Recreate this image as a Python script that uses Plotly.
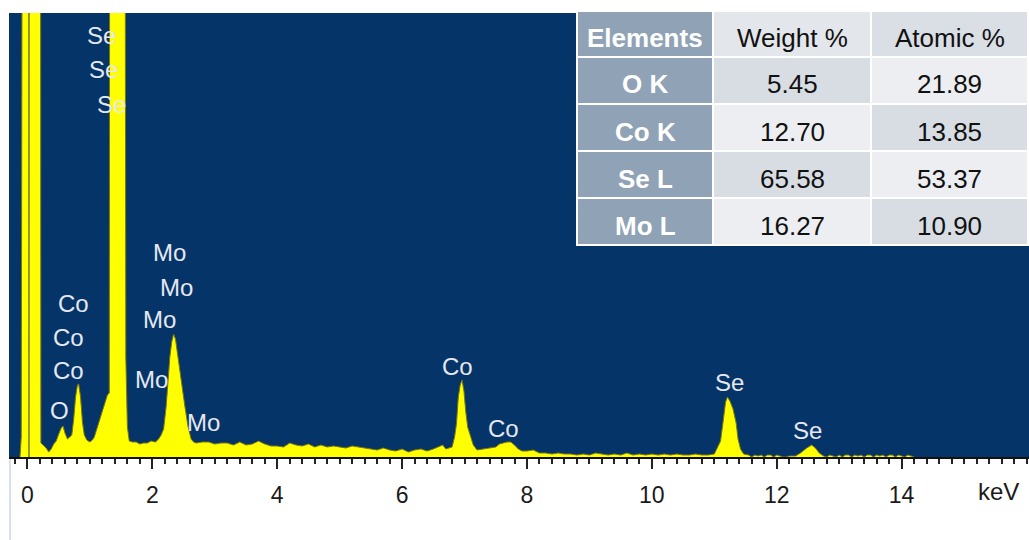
import plotly.graph_objects as go

# ---- EDS spectrum (energy in keV, counts in arbitrary units) ----
energy_kev = [
    -0.12, -0.10, -0.06, 0.020, 0.024, 0.028, 0.20, 0.215, 0.25, 0.30, 0.34,
    0.38, 0.42, 0.46, 0.50, 0.54, 0.57, 0.60, 0.64, 0.68, 0.71,
    0.74, 0.77, 0.80, 0.82, 0.85, 0.88, 0.91, 0.95, 1.00, 1.04,
    1.07, 1.11, 1.16, 1.21, 1.25, 1.28, 1.31, 1.325, 1.45, 1.55,
    1.575, 1.60, 1.63, 1.68, 1.74, 1.80, 1.86, 1.92, 1.98, 2.05,
    2.10, 2.14, 2.18, 2.22, 2.25, 2.28, 2.31, 2.34, 2.37, 2.40,
    2.44, 2.47, 2.52, 2.57, 2.62, 2.66, 2.70, 2.80, 2.90, 3.00,
    3.10, 3.20, 3.30, 3.40, 3.50, 3.60, 3.70, 3.80, 3.90, 4.00,
    4.10, 4.20, 4.30, 4.40, 4.50, 4.60, 4.70, 4.80, 4.90, 5.00,
    5.10, 5.20, 5.30, 5.40, 5.50, 5.60, 5.70, 5.80, 5.90, 6.00,
    6.10, 6.20, 6.30, 6.40, 6.50, 6.60, 6.65, 6.70, 6.75, 6.80,
    6.84, 6.87, 6.90, 6.93, 6.96, 6.99, 7.02, 7.05, 7.09, 7.14,
    7.20, 7.30, 7.40, 7.50, 7.56, 7.62, 7.68, 7.74, 7.80, 7.86,
    7.92, 8.00, 8.10, 8.20, 8.30, 8.40, 8.50, 8.60, 8.70, 8.80,
    8.90, 9.00, 9.10, 9.20, 9.30, 9.40, 9.50, 9.60, 9.70, 9.80,
    9.90, 10.00, 10.10, 10.20, 10.30, 10.40, 10.50, 10.60, 10.70, 10.80,
    10.90, 11.00, 11.05, 11.10, 11.14, 11.18, 11.21, 11.25, 11.30, 11.35,
    11.38, 11.42, 11.47, 11.55, 11.60, 11.65, 11.70, 11.75, 11.80, 11.85,
    11.90, 11.95, 12.00, 12.05, 12.10, 12.15, 12.20, 12.25, 12.30, 12.38,
    12.48, 12.56, 12.62, 12.68, 12.75, 12.80, 12.85, 12.90, 12.95, 13.00,
    13.05, 13.10, 13.15, 13.20, 13.25, 13.30, 13.35, 13.40, 13.45, 13.50,
    13.55, 13.60, 13.65, 13.70, 13.75, 13.80, 13.85, 13.90, 13.95, 14.00,
    14.05, 14.10, 14.15, 14.20,
]
counts = [
    0, 20, 1500, 1500, 0, 1500, 1500, 14, 12, 9, 5,
    8, 13, 16, 23, 29, 31, 24, 18, 20, 22,
    38, 60, 72, 73, 60, 35, 22, 17, 15, 17,
    20, 28, 37, 48, 57, 62, 64, 1300, 1500, 1200,
    100, 30, 16, 15, 15, 13, 14, 14, 16, 15,
    18, 22, 28, 50, 75, 100, 115, 123, 118, 104,
    86, 70, 51, 31, 18, 15, 14, 15, 15, 13,
    14, 14, 12, 15, 12, 13, 16, 13, 11, 11,
    10, 14, 12, 11, 13, 10, 12, 10, 11, 10,
    9, 11, 10, 9, 8, 7, 9, 7, 6, 8,
    5, 7, 8, 6, 8, 11, 12, 8, 9, 10,
    20, 33, 60, 72, 77, 66, 45, 30, 22, 12,
    7, 8, 9, 10, 13, 14, 15, 15, 12, 8,
    6, 6, 7, 4, 4, 3, 4, 3, 3, 2,
    3, 2, 4, 3, 2, 3, 2, 4, 2, 3,
    2, 3, 2, 3, 2, 3, 2, 2, 3, 2,
    2, 3, 9, 16, 35, 55, 60, 56, 48, 34,
    18, 8, 3, 2, 0, 2, 1, 2, 0, 2,
    2, 0, 2, 1, 0, 0, 1, 1, 1, 4,
    9, 12, 9, 4, 1, 0, 2, 1, 0, 2,
    0, 2, 2, 0, 2, 1, 2, 0, 2, 2,
    0, 2, 1, 2, 0, 2, 2, 0, 2, 1,
    0, 2, 1, 0,
]

# ---- element line labels ----
label_text = ["Se", "Se", "Se", "Mo", "Mo", "Mo", "Mo", "Mo",
              "Co", "Co", "Co", "O", "Co", "Co", "Se", "Se"]
label_kev = [1.19, 1.21, 1.35, 2.28, 2.39, 2.12, 1.99, 2.82,
             0.73, 0.65, 0.65, 0.52, 6.89, 7.62, 11.24, 12.49]
label_level = [422, 388, 353, 205, 170, 138, 78, 35,
               154, 120, 87, 47, 91, 29, 75, 27]

# ---- quantification table ----
table_header = ["Elements", "Weight %", "Atomic %"]
elements = ["O K", "Co K", "Se L", "Mo L"]
weight_pct = ["5.45", "12.70", "65.58", "16.27"]
atomic_pct = ["21.89", "13.85", "53.37", "10.90"]

# ---- axis ticks ----
major_ticks = [0, 2, 4, 6, 8, 10, 12, 14]
major_tick_text = ["0", "2", "4", "6", "8", "10", "12", "14"]
mid_ticks = [1, 3, 5, 7, 9, 11, 13, 15]

FONT = "Liberation Sans, Arial, sans-serif"
X_RANGE = [-0.296, 16.04]
Y_RANGE = [0, 444]

# figure geometry (pixels)
FIG_W, FIG_H = 1029, 540
M_L, M_R, M_T, M_B = 9, 0, 13, 83
PLOT_W = FIG_W - M_L - M_R
PLOT_H = FIG_H - M_T - M_B


def px_x(px):
    return (px - M_L) / PLOT_W


def px_y(py):
    return (FIG_H - M_B - py) / PLOT_H


fig = go.Figure()

fig.add_trace(go.Scatter(
    x=energy_kev, y=counts, mode="lines",
    line=dict(color="#7a7614", width=1),
    fill="tozeroy", fillcolor="#FFFF00",
    hoverinfo="skip", showlegend=False,
))

# ---- table drawn as cells (shapes) + centred text (annotations) ----
col_edges = [578, 714, 872, 1029]     # left edges of columns, last = right border
row_edges = [12, 58, 105, 152, 199, 246]
GAP = 2
slate = "#8FA2B6"
dark_cell = "#D8DDE4"
light_cell = "#ECEEF1"
header_fill = [slate, "#E3E6EB", "#DADEE5"]

shapes = [
    # white frame / grid behind the cells
    dict(type="rect", xref="paper", yref="paper", layer="above",
         x0=px_x(col_edges[0] - GAP), x1=px_x(col_edges[-1] + 2),
         y0=px_y(row_edges[-1]), y1=px_y(row_edges[0] - 2),
         fillcolor="white", line=dict(width=0)),
]

table_rows = [table_header] + [list(r) for r in zip(elements, weight_pct, atomic_pct)]
annotations = []
for r, row in enumerate(table_rows):
    for c, txt in enumerate(row):
        if r == 0:
            fill = header_fill[c]
        elif c == 0:
            fill = slate
        else:
            fill = dark_cell if (r + c) % 2 == 0 else light_cell
        x0, x1 = col_edges[c], col_edges[c + 1] - GAP
        y0, y1 = row_edges[r], row_edges[r + 1] - GAP
        shapes.append(dict(type="rect", xref="paper", yref="paper", layer="above",
                           x0=px_x(x0), x1=px_x(x1), y0=px_y(y1), y1=px_y(y0),
                           fillcolor=fill, line=dict(width=0)))
        bold = c == 0
        annotations.append(dict(
            x=px_x((x0 + x1) / 2), y=px_y((y0 + y1) / 2 + 4),
            xref="paper", yref="paper", showarrow=False,
            text=f"<b>{txt}</b>" if bold else txt,
            font=dict(family=FONT, size=26, color="white" if bold else "#111111"),
            xanchor="center", yanchor="middle",
        ))

# panel border in the axis strip
shapes.append(dict(type="line", xref="paper", yref="paper", x0=0.001, x1=0.001,
                   y0=-0.005, y1=-0.19, line=dict(color="#A9C3DE", width=1)))

annotations += [
    dict(x=xk, y=yl, xref="x", yref="y", text=t, showarrow=False,
         font=dict(family=FONT, size=24, color="#E6E8F0"),
         xanchor="center", yanchor="middle")
    for t, xk, yl in zip(label_text, label_kev, label_level)
]
annotations.append(dict(
    x=0.992, y=-0.077, xref="paper", yref="paper", text="keV", showarrow=False,
    font=dict(family=FONT, size=24, color="#1a1a1a"),
    xanchor="right", yanchor="middle",
))

fig.update_layout(
    width=FIG_W, height=FIG_H,
    margin=dict(l=M_L, r=M_R, t=M_T, b=M_B),
    paper_bgcolor="white",
    plot_bgcolor="#053468",
    showlegend=False,
    annotations=annotations,
    shapes=shapes,
    xaxis=dict(
        range=X_RANGE, tickmode="array", tickvals=major_ticks, ticktext=major_tick_text,
        ticks="outside", ticklen=10, tickwidth=2, tickcolor="#222222",
        showline=True, linecolor="#111111", linewidth=2,
        showgrid=False, zeroline=False,
        tickfont=dict(family=FONT, size=23, color="#1a1a1a"),
        ticklabelstandoff=6,
        minor=dict(dtick=0.2, tick0=0, ticks="outside", ticklen=5, tickwidth=1.5,
                   tickcolor="#222222", showgrid=False),
    ),
    xaxis2=dict(
        range=X_RANGE, overlaying="x", anchor="y", side="bottom",
        tickmode="array", tickvals=mid_ticks, showticklabels=False,
        ticks="outside", ticklen=7, tickwidth=2, tickcolor="#222222",
        showline=False, showgrid=False, zeroline=False,
    ),
    yaxis=dict(range=Y_RANGE, visible=False, fixedrange=True),
)

fig.write_html("out.html")
